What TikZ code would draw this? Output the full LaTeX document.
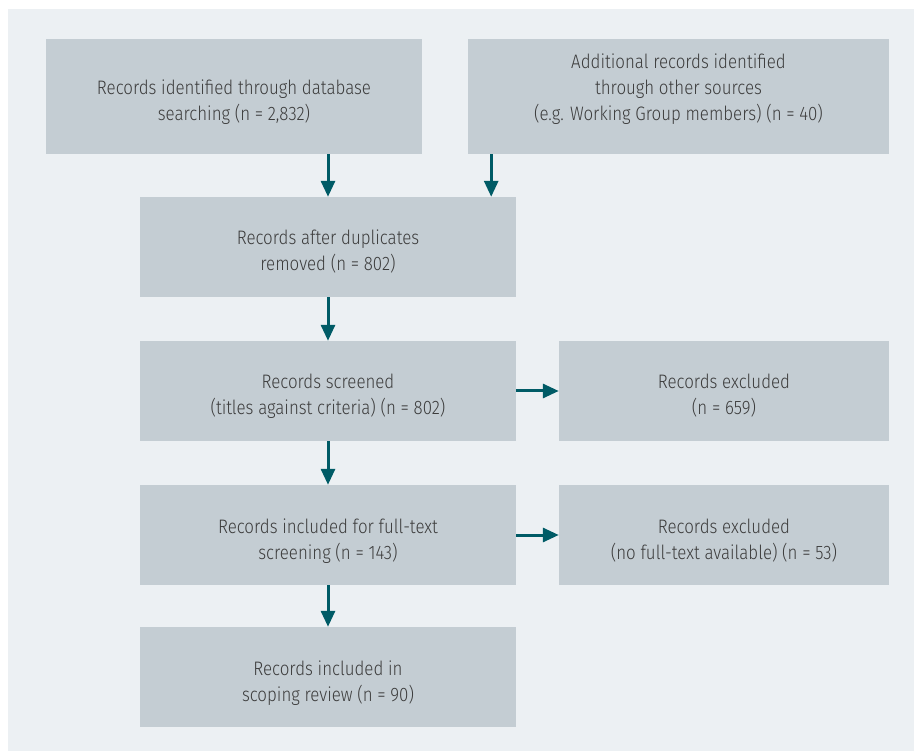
\documentclass[tikz,border=0pt]{standalone}
\usepackage{fontspec}
\setmainfont{Fira Sans Light}[FakeStretch=0.866]
\usetikzlibrary{arrows.meta}
\definecolor{panelbg}{HTML}{ECF0F3}
\definecolor{boxfill}{HTML}{C4CDD3}
\definecolor{flowteal}{HTML}{005B66}
\definecolor{textgray}{HTML}{3C3C3C}

\begin{document}
\begin{tikzpicture}[x=1pt, y=-1pt,
	rec/.style={fill=boxfill, text=textgray, align=center, inner sep=0pt,
		text height=48pt, text depth=0pt, font=\fontsize{19.5}{26}\selectfont},
	flow/.style={-{Triangle[length=16pt, width=14pt]}, line width=3pt, draw=flowteal, fill=flowteal}]

	\useasboundingbox (0,0) rectangle (914,751);
	\fill[white] (0,0) rectangle (914,751);
	\fill[panelbg] (8,9) rectangle (914,751);

	\node[rec, minimum width=376pt, minimum height=115pt] (ident) at (234,96.5)
		{Records identified through database\\searching (n = 2,832)};
	\node[rec, minimum width=421pt, minimum height=115pt] (other) at (678.5,96.5)
		{Additional records identified\\through other sources\\(e.g. Working Group members) (n = 40)};

	\node[rec, minimum width=376pt, minimum height=100pt] (dup) at (328,247)
		{Records after duplicates\\removed (n = 802)};
	\node[rec, minimum width=376pt, minimum height=100pt] (screen) at (328,391)
		{Records screened\\(titles against criteria) (n = 802)};
	\node[rec, minimum width=330pt, minimum height=100pt] (excl1) at (724,391)
		{Records excluded\\(n = 659)};
	\node[rec, minimum width=376pt, minimum height=100pt] (full) at (328,535)
		{Records included for full-text\\screening (n = 143)};
	\node[rec, minimum width=330pt, minimum height=100pt] (excl2) at (724,535)
		{Records excluded\\(no full-text available) (n = 53)};
	\node[rec, minimum width=376pt, minimum height=100pt] (incl) at (328,677)
		{Records included in\\scoping review (n = 90)};

	\coordinate (otherin) at ([xshift=-25pt]dup.north east);

	\draw[flow] (ident.south -| dup.north) -- (dup.north);
	\draw[flow] (other.south -| otherin) -- (otherin);
	\foreach \i / \j in {dup/screen, screen/full, full/incl}
	{
		\draw[flow] (\i.south) -- (\j.north);
	};
	\foreach \i / \j in {screen/excl1, full/excl2}
	{
		\draw[flow] (\i.east) -- (\j.west);
	};
\end{tikzpicture}
\end{document}
